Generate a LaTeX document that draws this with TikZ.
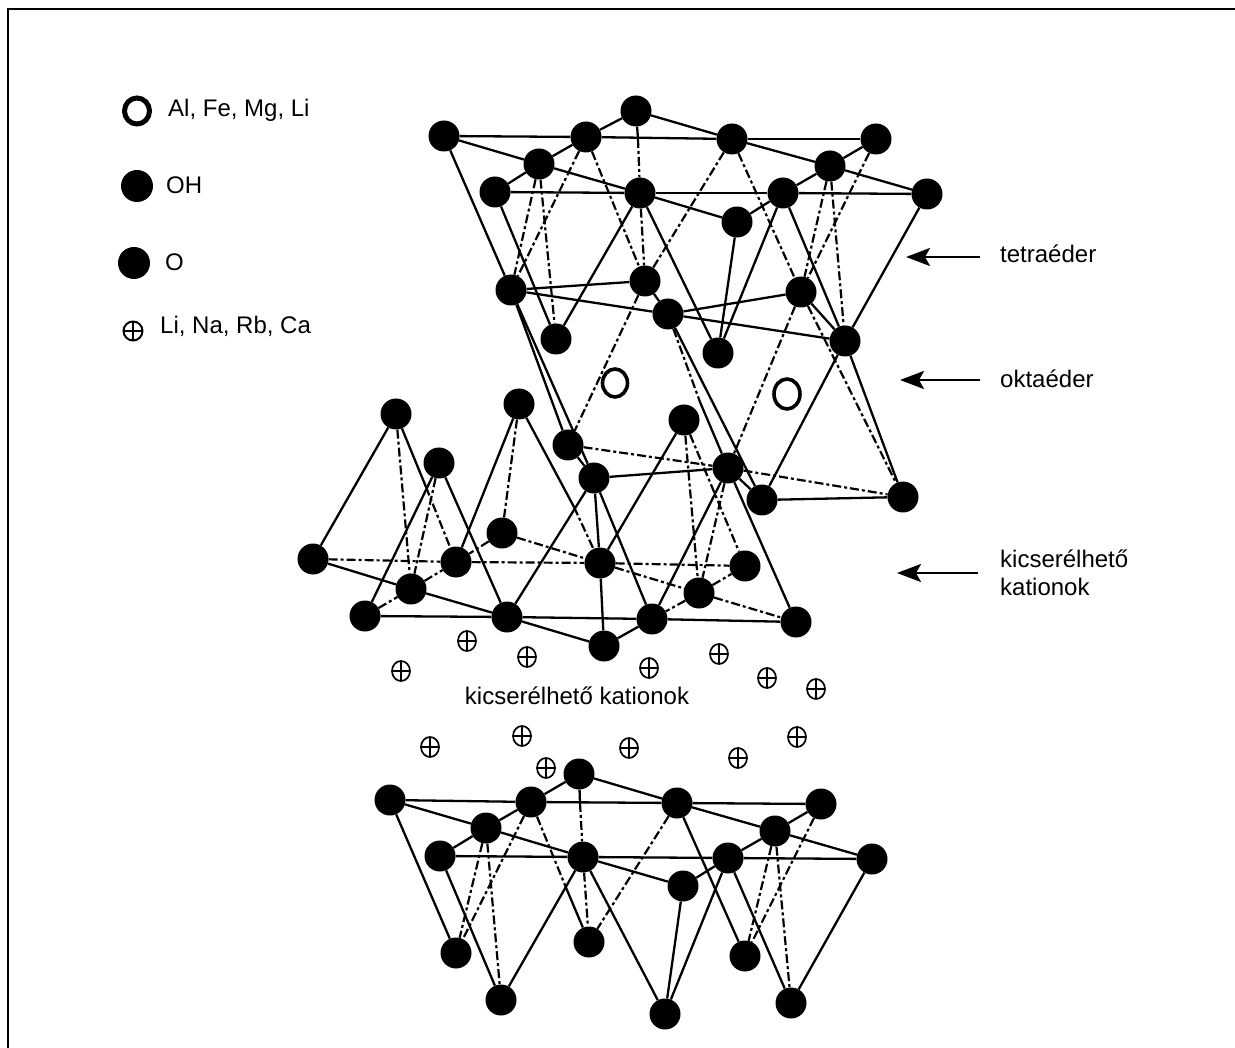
\documentclass[tikz,border=0pt]{standalone}
\usepackage{fontspec}
\setmainfont{Liberation Sans}
\usetikzlibrary{arrows.meta,shapes.geometric}
\tikzset{
  atom/.style={circle,fill=black,draw=none,inner sep=0pt,minimum size=31pt},
  lgatom/.style={atom,minimum size=32pt},
  bond/.style={line width=2.3pt,draw=black},
  back/.style={line width=2.2pt,draw=black,dash pattern=on 9pt off 3pt on 3pt off 3pt},
  ringatom/.style={ellipse,draw=black,fill=white,line width=3.6pt,inner sep=0pt},
  cation/.style={ellipse,draw=black,line width=1.7pt,inner sep=0pt,minimum width=18pt,minimum height=20pt,
    path picture={\draw[black,line width=1.7pt] (path picture bounding box.north)--(path picture bounding box.south)
      (path picture bounding box.west)--(path picture bounding box.east);}},
  lab/.style={inner sep=0pt,font=\fontsize{24}{28}\selectfont,text=black},
  leftlab/.style={lab,anchor=west},
  pointer/.style={line width=2.4pt,draw=black,-{Stealth[length=24pt,width=18pt,inset=5pt]}},
  frameline/.style={line width=2.4pt,draw=black}
}
\begin{document}
\begin{tikzpicture}[x=1pt,y=-1pt]
\useasboundingbox (0,0) rectangle (1235,1048);
\fill[white] (0,0) rectangle (1235,1048);
\coordinate (fa) at (8,1048); \coordinate (fb) at (8,9); \coordinate (fc) at (1235,9);
\draw[frameline] (fa)--(fb)--(fc);
% atoms
\foreach \n/\x/\y in {t1/444/136,t2/586/137,t3/636/111,t4/732/139,t5/876/139,t6/539/164,t7/495/192,t8/640/193,t9/783/193,t10/830/166,t11/927/194,t12/737/222,t13/511/290,t14/645/281,t15/668/314,t16/801/292,t17/845/341,t18/556/339,t19/718/353,
 m1/568/445,m2/594/478,m3/728/468,m4/762/500,m5/903/497,
 b1/519/404,b2/684/420,b3/502/533,b4/396/414,b5/439/463,b6/313/559,b7/456/562,b8/600/563,b9/745/566,b10/411/589,b11/699/593,b12/365/616,b13/507/617,b14/652/619,b15/796/622,b16/604/646,
 c1/390/800,c2/531/802,c3/579/774,c4/677/803,c5/821/804,c6/486/828,c7/440/856,c8/583/857,c9/728/858,c10/775/831,c11/872/859,c12/683/886,c13/456/953,c14/589/942,c15/745/956,c16/501/1000,c17/665/1014,c18/791/1003}
  {\node[atom] (\n) at (\x,\y) {};}
% break points where a bond changes from solid to broken
\coordinate (tx) at (638,139);
\coordinate (cx) at (580,803);
\coordinate (bx) at (426,487);
\coordinate (by) at (574,507);
\coordinate (dx) at (567,890);
\coordinate (ey) at (700,402);
% solid bonds
\foreach \a/\b in {t1/t2,t2/t4,t4/t5,t7/t8,t8/t9,t9/t11,t1/t6,t6/t8,t2/t3,t3/t4,t2/t6,t6/t7,t4/t10,t10/t11,t10/t5,t10/t9,t9/t12,t12/t8,t3/tx,
 t1/t13,t7/t18,t8/t18,t8/t19,t12/t19,t9/t19,t9/t17,t11/t17,t13/t14,t13/t15,t14/t15,t15/t16,t15/t17,t16/t17,
 t13/m1,t13/m2,t15/m4,ey/m3,t17/m4,t17/m5,m2/m3,m4/m5,m3/m4,m1/m2,
 b6/b4,b4/bx,b5/b12,b5/b13,b6/b10,b10/b13,b12/b13,b13/b14,b14/b15,b13/b16,b16/b14,b8/b16,m2/b8,b1/b7,b1/by,m2/b13,m2/b14,b2/b8,m3/b14,m3/b15,
 c1/c2,c2/c4,c4/c5,c7/c8,c8/c9,c9/c11,c1/c6,c6/c8,c2/c3,c3/c4,c2/c6,c6/c7,c4/c10,c10/c11,c10/c5,c10/c9,c9/c12,c12/c8,c3/cx,
 c1/c13,c7/c16,c8/c16,c8/c17,c12/c17,c9/c17,c9/c18,c11/c18,c4/c15,dx/c14}
  {\draw[bond] (\a)--(\b);}
% broken bonds
\foreach \a/\b in {tx/t8,t2/t14,t4/t14,t4/t16,t8/t14,t6/t13,t6/t18,t2/t13,t10/t16,t10/t17,t5/t16,
 t15/ey,t14/m1,t16/m3,t16/m5,m1/m3,m3/m5,
 b4/b10,bx/b7,b5/b10,b6/b7,b7/b8,b8/b9,b1/b3,by/b8,b3/b8,b3/b7,b2/b11,b2/b9,m3/b11,b8/b11,b11/b15,b11/b14,b11/b9,b10/b7,b12/b10,
 cx/c8,c6/c13,c6/c16,c2/c13,c2/dx,c4/c14,c8/c14,c10/c15,c10/c18,c5/c15}
  {\draw[back] (\a)--(\b);}
% central cations
\node[ringatom,minimum width=25pt,minimum height=28pt] (o1) at (615,383) {};
\node[ringatom,minimum width=26pt,minimum height=30pt] (o2) at (787,394) {};
\foreach \n/\x/\y in {k1/467/641,k2/527/657,k3/401/671,k4/649/668,k5/719/654,k6/767/678,k7/816/689,k8/430/747,k9/522/736,k10/629/748,k11/738/758,k12/797/737,k13/546/768}
  {\node[cation] (\n) at (\x,\y) {};}
% legend
\node[ringatom,line width=5pt,minimum width=25pt,minimum height=26pt] (lg1) at (137,111) {};
\node[lgatom] (lg2) at (137,186) {};
\node[lgatom] (lg3) at (134,263) {};
\node[cation,line width=2pt,minimum width=19pt,minimum height=19pt] (lg4) at (133,331) {};
\node[leftlab] (tlg1) at (168,110) {Al, Fe, Mg, Li};
\node[leftlab] (tlg2) at (166,185) {OH};
\node[leftlab] (tlg3) at (165,262) {O};
\node[leftlab] (tlg4) at (160,326) {Li, Na, Rb, Ca};
% right labels and pointers
\node[leftlab] (ltet) at (1000,254) {tetraéder};
\node[leftlab] (lokt) at (1000,379) {oktaéder};
\node[leftlab] (lk1) at (1000,559) {kicserélhető};
\node[leftlab] (lk2) at (1000,587) {kationok};
\node[lab] (lmid) at (577,696) {kicserélhető kationok};
\coordinate (p1a) at (980,257); \coordinate (p1b) at (906,257);
\coordinate (p2a) at (980,380); \coordinate (p2b) at (900,380);
\coordinate (p3a) at (978,573); \coordinate (p3b) at (897,573);
\draw[pointer] (p1a)--(p1b);
\draw[pointer] (p2a)--(p2b);
\draw[pointer] (p3a)--(p3b);
\end{tikzpicture}
\end{document}
